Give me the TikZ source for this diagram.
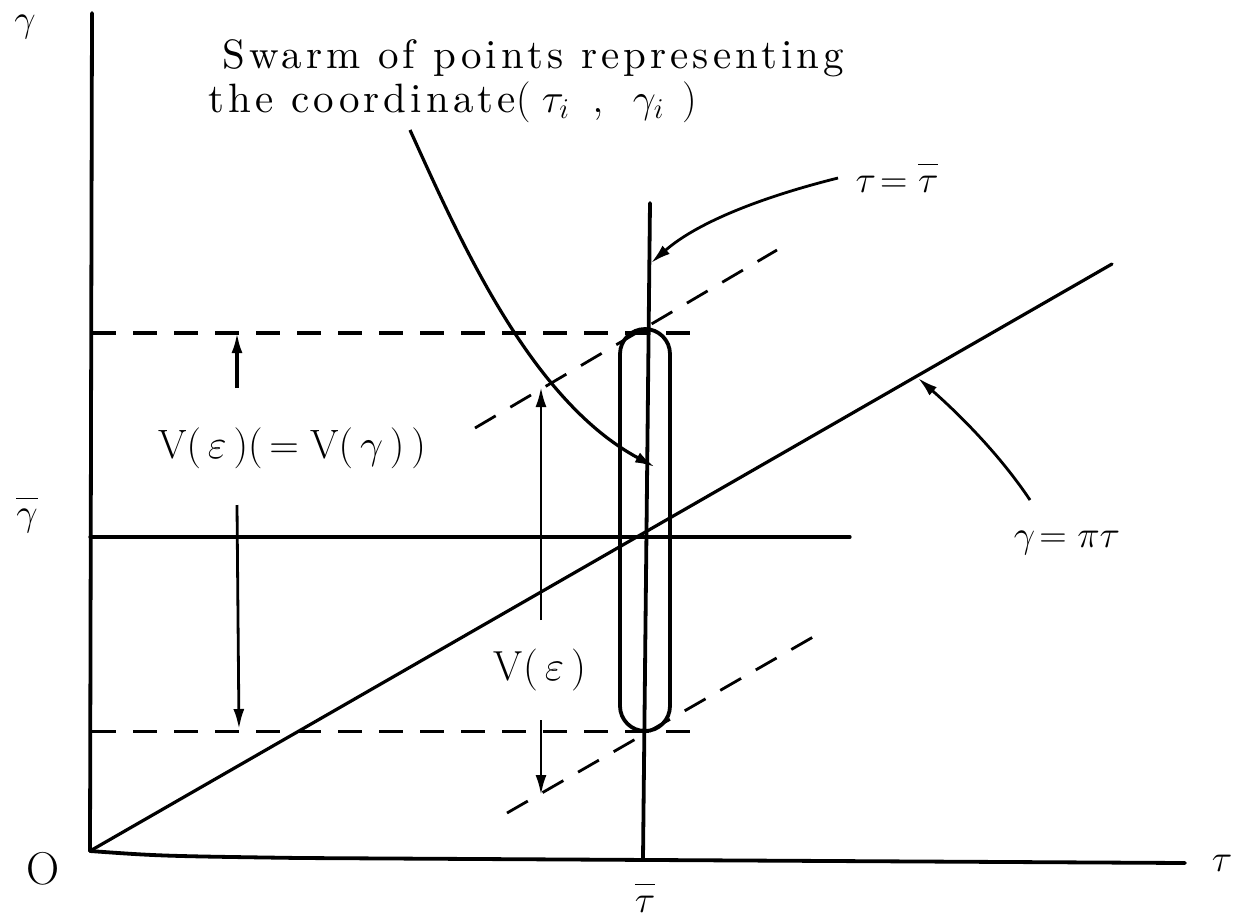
\documentclass[tikz,border=0pt]{standalone}
\usepackage{fix-cm}
\usepackage{fontspec}
\newfontfamily\spacedfont{lmroman10-regular.otf}[LetterSpace=10]
\usetikzlibrary{arrows.meta}
\newcommand{\hibar}[1]{\overline{\vphantom{l}#1}}
\begin{document}
\begin{tikzpicture}[x=1pt,y=-1pt,
  ln/.style={line width=3.8pt, line cap=round},
  thin ln/.style={line width=3.2pt, line cap=round},
  dsh/.style={line width=3.4pt, dash pattern=on 24pt off 17pt},
  arr/.style={line width=2.8pt, -{Latex[length=20pt,width=11pt]}},
  lbl/.style={inner sep=0pt, font=\fontsize{38}{46}\selectfont},
  txt/.style={inner sep=0pt, anchor=west, font=\spacedfont\fontsize{41}{46}\selectfont}]
\useasboundingbox (0,0) rectangle (1243,922);
% axes
\coordinate (ytop) at (92,13);
\coordinate (O) at (90,851);
\coordinate (xmid) at (300,858);
\coordinate (xend) at (1185,863);
\draw[ln] (ytop) -- (O);
\draw[ln] (O) .. controls (160,856) .. (xmid) -- (xend);
% gamma bar horizontal
\coordinate (gb1) at (90,537);
\coordinate (gb2) at (850,537);
\draw[thin ln] (gb1) -- (gb2);
% tau bar vertical
\coordinate (tb1) at (650,203);
\coordinate (tb2) at (643,859);
\draw[ln] (tb1) -- (tb2);
% gamma = pi tau
\coordinate (pl) at (1112,264);
\draw[thin ln] (O) -- (pl);
% dashed horizontals
\coordinate (dh1a) at (92,333);
\coordinate (dh1b) at (695,333);
\coordinate (dh2a) at (92,731);
\coordinate (dh2b) at (690,731);
\draw[dsh] (dh1a) -- (dh1b);
\draw[dsh, line width=3pt] (dh2a) -- (dh2b);
% dashed sloped
\coordinate (ds1a) at (475,428);
\coordinate (ds1b) at (777,250);
\coordinate (ds2a) at (507,813);
\coordinate (ds2b) at (820,633);
\draw[dsh, line width=2.8pt] (ds1a) -- (ds1b);
\draw[dsh, line width=2.8pt] (ds2a) -- (ds2b);
% capsule
\node[draw, line width=3.8pt, rounded corners=25pt, minimum width=50pt, minimum height=402pt, inner sep=0pt] (caps) at (645,530) {};
% V(eps)(=V(gamma)) arrows
\coordinate (a1s) at (237,388);
\coordinate (a1e) at (237,333);
\coordinate (a2s) at (237,505);
\coordinate (a2e) at (239,729);
\draw[arr, line width=3.2pt] (a1s) -- (a1e);
\draw[arr] (a2s) -- (a2e);
\node[lbl, font=\fontsize{41}{46}\selectfont] (vlab) at (292,448) {$\mathrm{V}(\,\varepsilon\,)(\,=\mathrm{V}(\,\gamma\,)\,)$};
% V(eps) arrows
\coordinate (b1s) at (541,620);
\coordinate (b1e) at (541,387);
\coordinate (b2s) at (541,720);
\coordinate (b2e) at (541,795);
\draw[arr] (b1s) -- (b1e);
\draw[arr] (b2s) -- (b2e);
\node[lbl, font=\fontsize{42}{46}\selectfont] (vlab2) at (540,670) {$\mathrm{V}(\,\varepsilon\,)$};
% swarm curve
\coordinate (sw0) at (410,130);
\coordinate (sw1) at (655,467);
\draw[arr, line width=3.2pt] (sw0) .. controls (460,240) and (530,400) .. (sw1);
% tau = taubar pointer
\coordinate (tp0) at (838,178);
\coordinate (tp1) at (651,263);
\draw[arr] (tp0) .. controls (770,195) and (700,220) .. (tp1);
\node[lbl] (tlab) at (897,178) {$\tau\!=\hibar{\tau}$};
% gamma = pi tau pointer
\coordinate (gp0) at (1030,500);
\coordinate (gp1) at (918,378);
\draw[arr] (gp0) .. controls (1000,455) and (960,415) .. (gp1);
\node[lbl] (glab) at (1067,543) {$\gamma\!=\pi\tau$};
% axis labels
\node[lbl] (gy) at (25,27) {$\gamma$};
\node[lbl] (gbar) at (27,515) {$\hibar{\gamma}$};
\node[lbl, font=\fontsize{46}{50}\selectfont] (olab) at (43,869) {O};
\node[lbl] (tx) at (1222,863) {$\tau$};
\node[lbl] (tbar) at (645,898) {$\hibar{\tau}$};
% swarm text
\node[txt] (sw1t) at (222,58) {Swarm of points representing};
\node[txt] (sw2t) at (208,102) {the coordinate$(\;\tau_i\;\;,\;\;\gamma_i\;\,)$};
\end{tikzpicture}
\end{document}
